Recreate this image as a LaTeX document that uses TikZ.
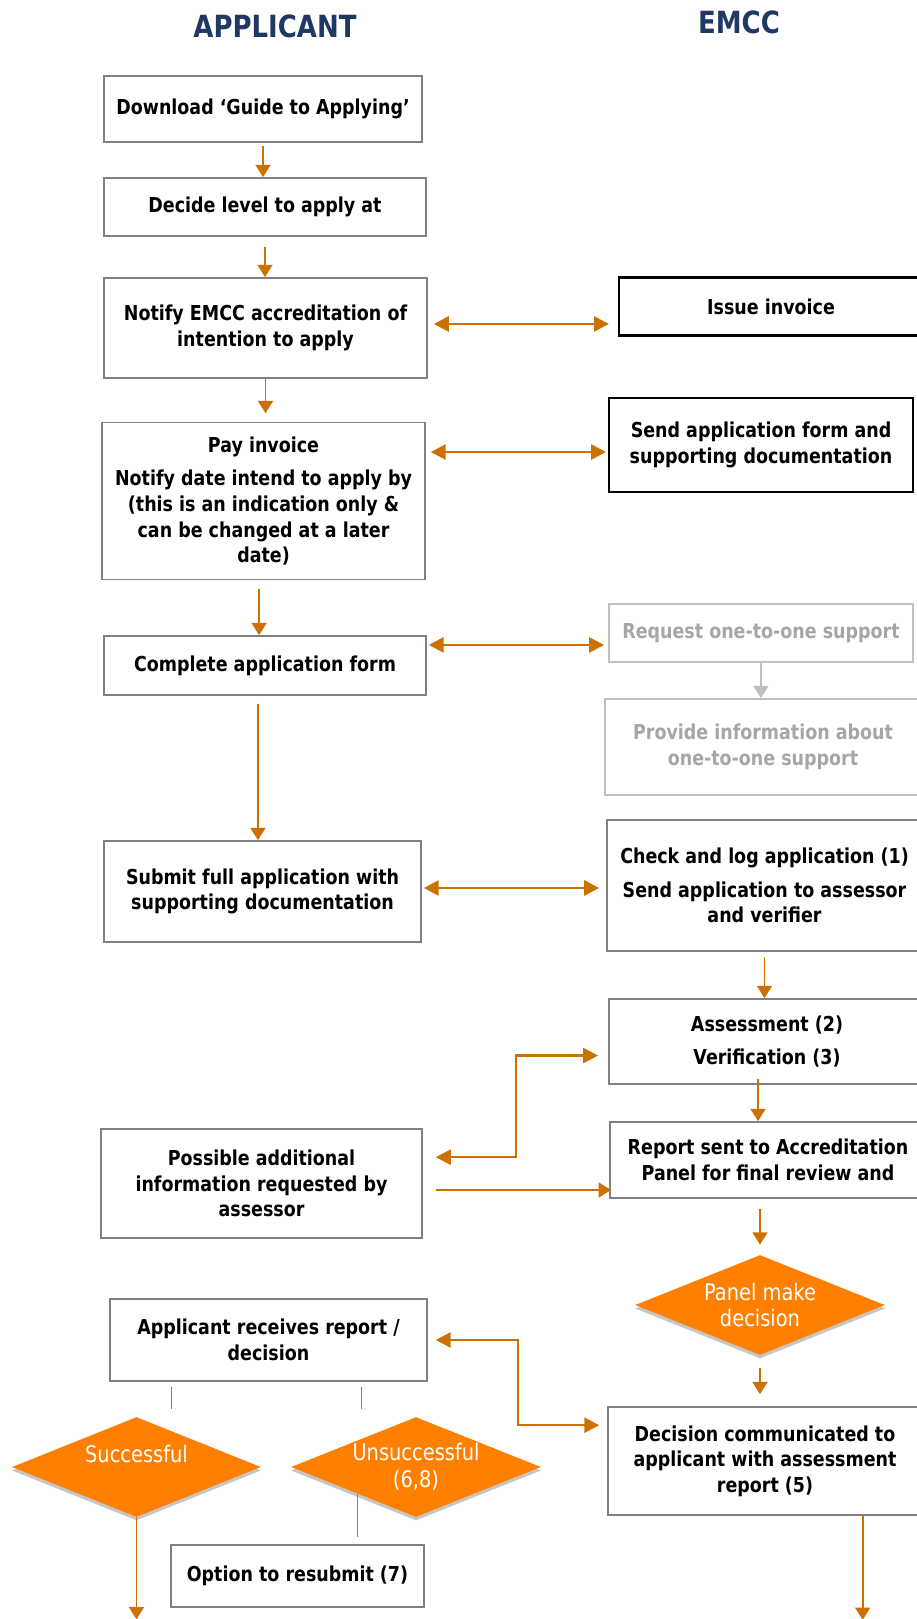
\documentclass[tikz,border=0pt]{standalone}
\usepackage{fontspec}
\setmainfont{DejaVu Sans}[FakeStretch=0.85]
\usepackage{tikz}
\usetikzlibrary{arrows.meta,positioning,calc,shapes.geometric,shadows}

\definecolor{arrorange}{RGB}{204,112,0}
\definecolor{fillorange}{RGB}{255,128,0}
\definecolor{navy}{RGB}{31,56,100}
\definecolor{boxgray}{RGB}{128,128,128}
\definecolor{palegray}{RGB}{191,191,191}
\definecolor{textgray}{RGB}{166,166,166}

\newcommand{\boxfont}{\fontsize{11.7}{14.6}\selectfont\bfseries}
\newcommand{\diafont}{\fontsize{13}{15.3}\selectfont}
\newcommand{\headfont}{\fontsize{17.4}{20}\selectfont\bfseries}

\begin{document}
\begin{tikzpicture}[x=0.02cm,y=-0.02cm,
	box/.style={draw=boxgray,line width=1pt,fill=white,align=center,inner sep=0pt,font=\boxfont},
	blackbox/.style={box,draw=black,line width=1.3pt},
	greybox/.style={box,draw=palegray,text=textgray},
	dia/.style={diamond,aspect=2.5,inner sep=0pt,fill=fillorange,text=white,align=center,font=\diafont,
		drop shadow={shadow xshift=0pt,shadow yshift=-2pt,fill=gray!45,opacity=1}},
	title/.style={font=\headfont,text=navy},
	arr/.style={draw=arrorange,line width=1.1pt,-{Triangle[length=7pt,width=8.5pt]}},
	garr/.style={arr,draw=palegray},
	dbl/.style={draw=arrorange,line width=1.6pt,{Triangle[length=8.5pt,width=8.5pt]}-{Triangle[length=8.5pt,width=8.5pt]}},
	elb/.style={dbl,line width=1.4pt},
	link/.style={draw=arrorange,line width=0.8pt}]
	\useasboundingbox (0,0) rectangle (916,1619);
	% column titles
	\node[title] (tapp) at (275,26) {APPLICANT};
	\node[title] (temcc) at (739,22.5) {EMCC};
	% applicant side
	\node[box,minimum width=6.36cm,minimum height=1.32cm] (dl) at (263,109) {Download ‘Guide to Applying’};
	\node[box,minimum width=6.44cm,minimum height=1.16cm] (lvl) at (265,207) {Decide level to apply at};
	\node[box,minimum width=6.46cm,minimum height=2cm] (notify) at (265.5,328) {Notify EMCC accreditation of\\intention to apply};
	\node[box,minimum width=6.46cm,minimum height=3.14cm] (pay) at (263.5,501) {Pay invoice\\[4.5pt]Notify date intend to apply by\\(this is an indication only \&\\can be changed at a later\\date)};
	\node[box,minimum width=6.44cm,minimum height=1.18cm] (cmp) at (265,665.5) {Complete application form};
	\node[box,minimum width=6.34cm,minimum height=2.02cm] (sub) at (262.5,891.5) {Submit full application with\\supporting documentation};
	\node[box,minimum width=6.42cm,minimum height=2.18cm] (poss) at (261.5,1183.5) {Possible additional\\information requested by\\assessor};
	\node[box,minimum width=6.34cm,minimum height=1.64cm] (rcv) at (268.5,1340) {Applicant receives report /\\decision};
	\node[dia,minimum width=4.98cm,minimum height=2cm] (succ) at (136.5,1467) {Successful\\~};
	\node[dia,minimum width=5cm,minimum height=2cm] (unsucc) at (416,1467) {Unsuccessful\\(6,8)};
	\node[box,minimum width=5.06cm,minimum height=1.24cm] (opt) at (297.5,1576) {Option to resubmit (7)};
	% EMCC side
	\node[blackbox,minimum width=6.08cm,minimum height=1.16cm] (inv) at (771,306.6) {Issue invoice};
	\node[blackbox,minimum width=6.08cm,minimum height=1.88cm] (send) at (761,445) {Send application form and\\supporting documentation};
	\node[greybox,minimum width=6.08cm,minimum height=1.16cm] (req) at (761,633) {Request one-to-one support};
	\node[greybox,minimum width=6.32cm,minimum height=1.92cm] (prov) at (763,747) {Provide information about\\one-to-one support};
	\node[box,minimum width=6.3cm,minimum height=2.62cm] (chk) at (764.5,885.5) {Check and log application (1)\\[4.5pt]Send application to assessor\\and verifier};
	\node[box,minimum width=6.32cm,minimum height=1.7cm] (ass) at (767,1041.5) {Assessment (2)\\[4.5pt]Verification (3)};
	\node[box,minimum width=6.32cm,minimum height=1.52cm] (rep) at (768,1160) {Report sent to Accreditation\\Panel for final review and};
	\node[dia,minimum width=5cm,minimum height=2cm] (panel) at (760,1305) {Panel make\\decision};
	\node[box,minimum width=6.28cm,minimum height=2.16cm] (dec) at (765,1461) {Decision communicated to\\applicant with assessment\\report (5)};
	% flow down the applicant column
	\draw[arr,shorten <=1.7pt] (dl.south) -- (dl.south |- lvl.north);
	\draw[arr,shorten <=5.7pt] (lvl.south) -- (lvl.south |- notify.north);
	\draw[arr,shorten >=4.8pt] (notify.south) -- (notify.south |- pay.north);
	\draw[arr,shorten <=4.9pt] ([xshift=-2.5pt]pay.south) -- ([xshift=-2.5pt]pay.south |- cmp.north);
	\draw[arr,shorten <=4.5pt] ([xshift=-4pt]cmp.south) -- ([xshift=-4pt]cmp.south |- sub.north);
	% exchanges between the columns
	\draw[dbl,shorten <=3.4pt,shorten >=5.1pt] ([yshift=2.3pt]notify.east) -- ([yshift=2.3pt]notify.east -| inv.west);
	\draw[dbl,shorten <=1.1pt,shorten >=2.8pt] ([yshift=-4pt]send.west) -- ([yshift=-4pt]send.west -| pay.east);
	\draw[dbl,shorten <=2.3pt,shorten >=1.1pt] ([yshift=-6.8pt]req.west) -- ([yshift=-6.8pt]req.west -| cmp.east);
	\draw[dbl,shorten <=1.1pt,shorten >=4pt] ([yshift=2pt]sub.east) -- ([yshift=2pt]sub.east -| chk.west);
	% EMCC column
	\draw[garr] (req.south) -- (req.south |- prov.north);
	\draw[arr,shorten <=2.8pt] (chk.south) -- (chk.south |- ass.north);
	\draw[arr,shorten <=-3.4pt] ([xshift=-5.1pt]ass.south) -- ([xshift=-5.1pt]ass.south |- rep.north);
	\draw[elb,shorten <=5.7pt,shorten >=7.4pt] ([yshift=-8pt]ass.west) -- ++(-92,0) |- ([yshift=15pt]poss.east);
	\draw[arr,line width=1.4pt,shorten <=7.4pt,shorten >=-1pt] ([yshift=-3.7pt]poss.east) -- ([yshift=-3.7pt]poss.east -| rep.west);
	\draw[arr,shorten <=5.7pt,shorten >=5.7pt] (panel.north |- rep.south) -- (panel.north);
	\draw[arr,shorten <=7.4pt,shorten >=6.8pt] (panel.south) -- (panel.south |- dec.north);
	\draw[elb,shorten <=4.5pt,shorten >=4.5pt] (rcv.east) -- ++(90,0) |- ([yshift=20.4pt]dec.west);
	% outcomes
	\draw[link] ([xshift=-55.3pt,yshift=-2.8pt]rcv.south) -- ++(0,22);
	\draw[link] ([xshift=53pt,yshift=-2.8pt]rcv.south) -- ++(0,22);
	\draw[link] ([xshift=34.3pt,yshift=4pt]opt.north) -- ++(0,-43);
	\draw[arr] (succ.south) -- ++(0,102);
	\draw[arr] ([xshift=55.6pt]dec.south) -- ++(0,104);
\end{tikzpicture}
\end{document}
